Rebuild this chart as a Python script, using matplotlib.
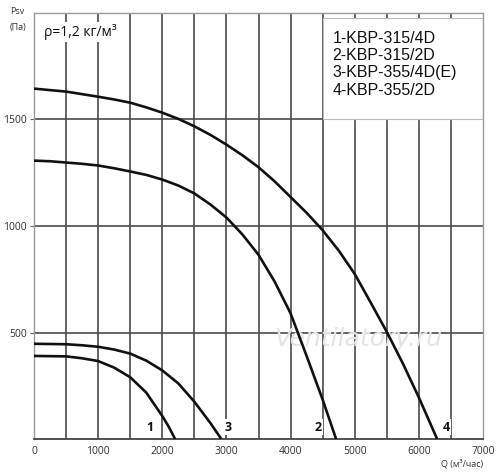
import matplotlib
matplotlib.use("Agg")
import matplotlib.pyplot as plt
from matplotlib.patches import Rectangle

# data
q4 = [0, 500, 1000, 1250, 1500, 1750, 2000, 2250, 2500, 2750, 3000, 3250, 3500, 3750, 4000,
      4250, 4500, 4750, 5000, 5250, 5500, 5750, 6000, 6285]
p4 = [1645, 1631, 1607, 1594, 1579, 1557, 1532, 1503, 1468, 1428, 1382, 1332, 1276, 1210, 1136,
      1062, 980, 885, 775, 640, 503, 355, 195, 0]
q2 = [0, 250, 500, 750, 1000, 1250, 1500, 1750, 2000, 2250, 2500, 2750, 3000, 3250, 3500,
      3750, 4000, 4250, 4500, 4710]
p2 = [1307, 1304, 1298, 1292, 1284, 1271, 1256, 1240, 1218, 1190, 1153, 1101, 1040, 960, 865,
      740, 590, 390, 185, 0]
q3 = [0, 500, 750, 1000, 1250, 1500, 1750, 2000, 2250, 2500, 2750, 2920]
p3 = [447, 445, 440, 433, 420, 401, 368, 322, 261, 175, 75, 0]
q1 = [0, 500, 750, 1000, 1250, 1500, 1750, 2000, 2100, 2200]
p1 = [390, 388, 379, 366, 335, 290, 218, 108, 58, 0]

curve_labels = ["1", "2", "3", "4"]
label_q = [1800, 4430, 3030, 6430]
legend_lines = ["1-KBP-315/4D", "2-KBP-315/2D", "3-KBP-355/4D(E)", "4-KBP-355/2D"]
xticks = [0, 1000, 2000, 3000, 4000, 5000, 6000, 7000]
yticks = [500, 1000, 1500]

plt.rcParams['font.family'] = ['Open Sans', 'DejaVu Sans']

fig = plt.figure(figsize=(5.0, 4.76), dpi=100)
ax = fig.add_axes([0.068, 0.0777, 0.898, 0.895])
ax.set_xlim(0, 7000)
ax.set_ylim(0, 2000)

gcol = '#4a4a4a'
for x in range(500, 7000, 500):
    ax.axvline(x, color=gcol, lw=1.2, zorder=1)
for y in yticks:
    ax.axhline(y, color=gcol, lw=1.2, zorder=1)

for s in ['top', 'right', 'left']:
    ax.spines[s].set_color('#9a9a9a')
    ax.spines[s].set_linewidth(1.0)
ax.spines['bottom'].set_color('#444444')
ax.spines['bottom'].set_linewidth(1.3)

ax.set_xticks(xticks)
ax.set_yticks(yticks)
ax.tick_params(axis='both', labelsize=7.5, colors='#333333', length=0, pad=5)
ax.tick_params(axis='y', length=3, direction='out', color='#666666', pad=2)

# legend box
ax.add_patch(Rectangle((4500, 1500), 2500, 478, facecolor='white', edgecolor='#bbbbbb',
                       lw=0.8, zorder=2))
ax.text(4650, 1760, "\n".join(legend_lines), family='Liberation Sans', fontsize=11.5,
        va='center', ha='left', linespacing=1.2, color='#111111', zorder=3)

# watermark
ax.text(5050, 470, "Ventilatory.ru", fontsize=18, style='italic', color='#e4e4e4',
        ha='center', va='center', zorder=3, family='DejaVu Sans')

# curves
for q, p in [(q1, p1), (q2, p2), (q3, p3), (q4, p4)]:
    ax.plot(q, p, color='#111111', lw=1.9, zorder=4, solid_capstyle='butt',
            solid_joinstyle='round')

# curve labels
for lab, xq in zip(curve_labels, label_q):
    ax.text(xq, 55, lab, fontsize=9, fontweight='bold', ha='center', va='center',
            color='#111111', zorder=5,
            bbox=dict(facecolor='white', edgecolor='none', pad=1.0))

# density note
ax.text(150, 1910, "ρ=1,2 кг/м³", fontsize=10, ha='left', va='center', color='#111111',
        zorder=5, bbox=dict(facecolor='white', edgecolor='none', pad=1.5))

fig.text(0.035, 0.985, "Psv", fontsize=6.5, ha='center', va='top', color='#333333')
fig.text(0.035, 0.952, "(Па)", fontsize=6.5, ha='center', va='top', color='#333333')
fig.text(0.966, 0.025, "Q (м³/час)", fontsize=6.5, ha='right', va='center', color='#333333')

fig.savefig("out.png", dpi=100)
